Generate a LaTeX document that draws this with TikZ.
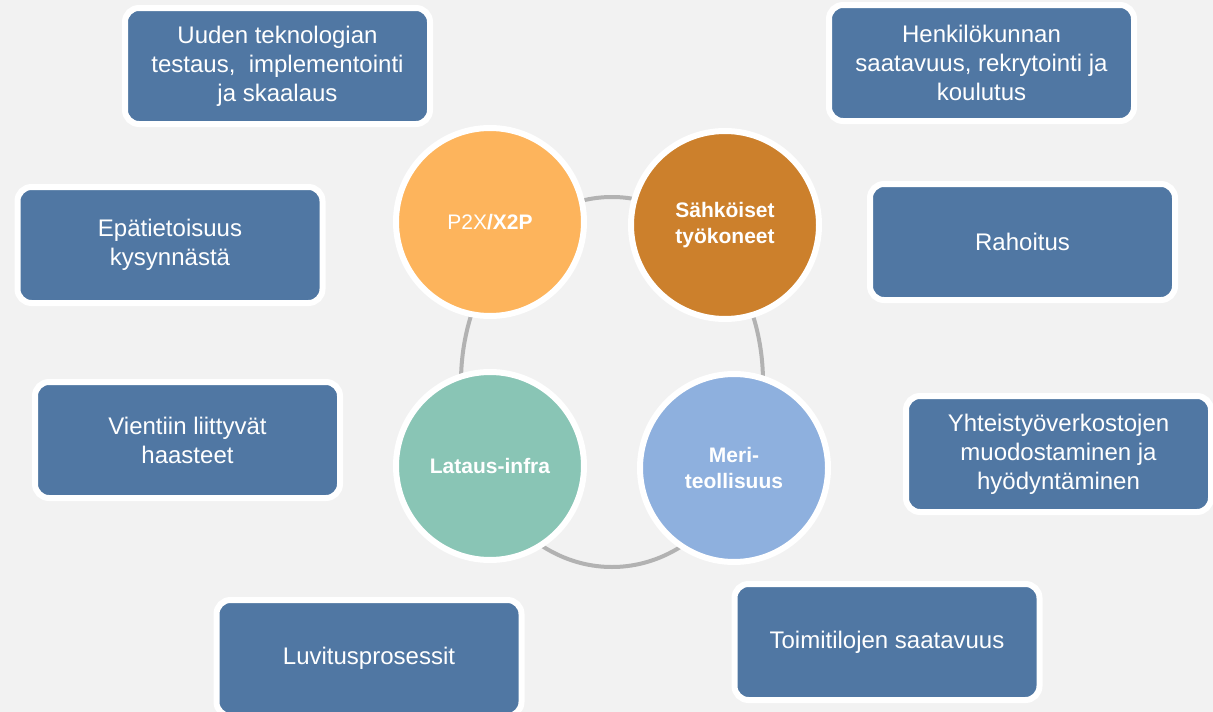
\documentclass[tikz,border=0pt]{standalone}
\usepackage{fontspec}
\setmainfont{Liberation Sans}
\definecolor{bgcol}{RGB}{242,242,242}
\definecolor{boxblue}{RGB}{80,119,163}
\definecolor{ringgray}{RGB}{178,178,178}
\definecolor{corange}{RGB}{253,180,92}
\definecolor{cbrown}{RGB}{204,128,44}
\definecolor{cteal}{RGB}{137,197,181}
\definecolor{cblue}{RGB}{142,176,222}
\begin{document}
\begin{tikzpicture}[x=1pt,y=-1pt,
  topicbox/.style={rectangle, rounded corners=14pt, fill=boxblue, draw=white,
    line width=6pt, minimum width=305pt, minimum height=116pt, inner sep=0pt,
    text=white, align=center, font=\fontsize{24}{29}\selectfont},
  hub/.style={circle, draw=white, line width=6pt, minimum size=188pt, inner sep=0pt,
    text=white, align=center, font=\fontsize{21}{26}\selectfont\bfseries}]
  % canvas
  \fill[bgcol] (0,0) rectangle (1213,712);
  \useasboundingbox (0,0) rectangle (1213,712);

  % grey ring behind the four circles
  \draw[ringgray, line width=4pt] (612,382) ellipse [x radius=151pt, y radius=185pt];

  % the four circles
  \node[hub, fill=corange] (p2x)  at (490,222) {{\mdseries P2X}/X2P};
  \node[hub, fill=cbrown]  (sahko) at (725,225) {Sähköiset\\työkoneet};
  \node[hub, fill=cteal]   (lataus) at (490,466) {Lataus-infra};
  \node[hub, fill=cblue]   (meri) at (734,468) {Meri-\\teollisuus};

  % surrounding topic boxes
  \node[topicbox] (uuden) at (277.5,66) {Uuden teknologian\\testaus, \ implementointi\\ja skaalaus};
  \node[topicbox] (henk)  at (981.5,63) {Henkilökunnan\\saatavuus, rekrytointi ja\\koulutus};
  \node[topicbox] (epa)   at (170,245) {Epätietoisuus\\kysynnästä};
  \node[topicbox] (raha)  at (1022.5,242) {Rahoitus};
  \node[topicbox] (vienti) at (187.5,440) {Vientiin liittyvät\\haasteet};
  \node[topicbox] (yhteis) at (1058.5,454) {Yhteistyöverkostojen\\muodostaminen ja\\hyödyntäminen};
  \node[topicbox] (luvit) at (369,658) {Luvitusprosessit};
  \node[topicbox] (toimi) at (887,642) {Toimitilojen saatavuus};
\end{tikzpicture}
\end{document}
